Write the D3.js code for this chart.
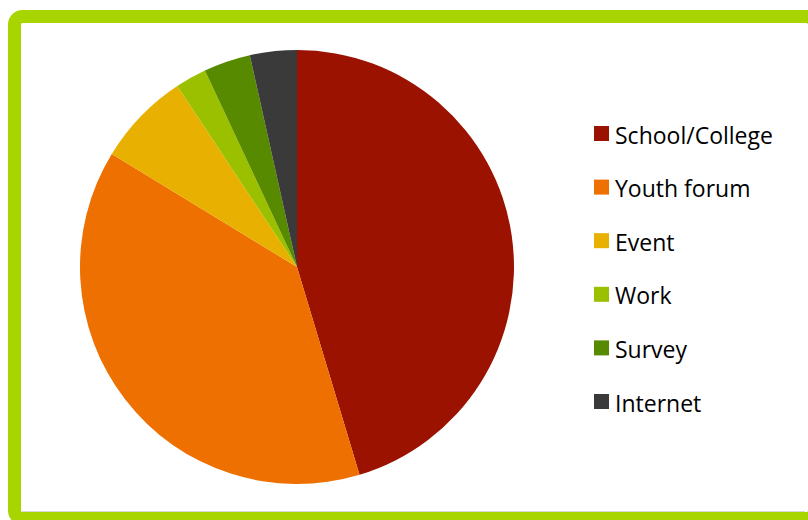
<!DOCTYPE html>
<html>
<head>
<meta charset="utf-8">
<script src="https://cdn.jsdelivr.net/npm/d3@7/dist/d3.min.js"></script>
<style>
  html, body { margin: 0; padding: 0; background: #fff; }
  svg { display: block; }
</style>
</head>
<body>
<svg id="chart" width="808" height="520"></svg>
<script>
// Where respondents heard about the consultation
const categories = ["School/College", "Youth forum", "Event", "Work", "Survey", "Internet"];
const counts = [39, 33, 6, 2, 3, 3];
const colors = ["#9b1200", "#ed7000", "#e8b000", "#9bc000", "#588a00", "#3a3a3a"];

const svg = d3.select("#chart");

// frame
svg.append("rect")
  .attr("x", 14.5).attr("y", 16.5)
  .attr("width", 800).attr("height", 502)
  .attr("rx", 8).attr("ry", 8)
  .attr("fill", "#fff")
  .attr("stroke", "#a8d400")
  .attr("stroke-width", 13);
svg.append("line")
  .attr("x1", 22).attr("x2", 805)
  .attr("y1", 511.5).attr("y2", 511.5)
  .attr("stroke", "#d8d8d8").attr("stroke-width", 1);

const data = categories.map((c, i) => ({ name: c, value: counts[i], color: colors[i] }));

const pie = d3.pie().value(d => d.value).sort(null);
const arc = d3.arc().innerRadius(0).outerRadius(217);

const g = svg.append("g").attr("transform", "translate(297,267)");
g.selectAll("path")
  .data(pie(data))
  .join("path")
  .attr("d", arc)
  .attr("fill", d => d.data.color);

// legend
const y = d3.scalePoint().domain(categories).range([133.5, 401.5]);
const legend = svg.append("g");
const item = legend.selectAll("g")
  .data(data)
  .join("g")
  .attr("transform", d => `translate(594,${y(d.name)})`);
item.append("rect")
  .attr("x", 0).attr("y", -7.5)
  .attr("width", 15).attr("height", 15)
  .attr("fill", d => d.color);
item.append("text")
  .attr("x", 21).attr("y", 10)
  .attr("font-family", "'Open Sans', sans-serif")
  .attr("font-size", 23)
  .attr("fill", "#000")
  .text(d => d.name);
</script>
</body>
</html>
